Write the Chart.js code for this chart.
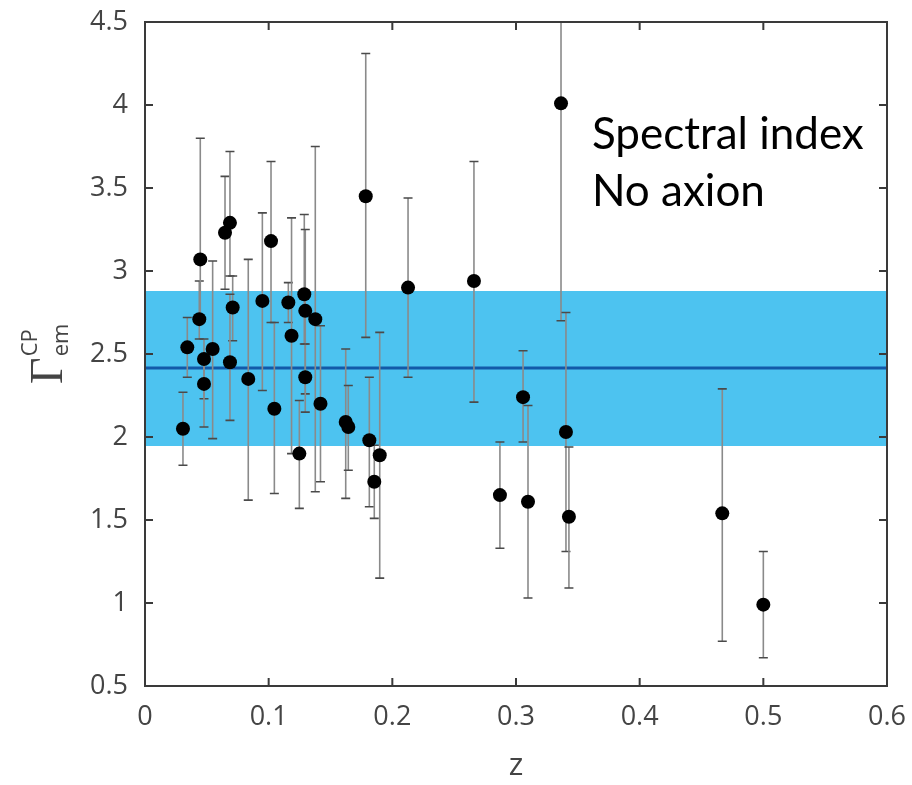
<!DOCTYPE html>
<html><head><meta charset="utf-8">
<script src="https://cdn.jsdelivr.net/npm/chart.js@4.4.0/dist/chart.umd.min.js"></script>
<style>html,body{margin:0;padding:0;background:#fff}#wrap{width:912px;height:785px;position:relative}</style>
</head><body><div id="wrap"><canvas id="c" width="912" height="785"></canvas></div>
<script>
// ---- data ----
const zValues     = [0.0307,0.0342,0.0439,0.0447,0.0477,0.0477,0.0547,0.0647,0.0687,0.0709,0.0687,0.0835,0.0949,0.1019,0.1046,0.1159,0.1185,0.1248,0.1288,0.1296,0.1296,0.1377,0.1419,0.1623,0.1644,0.1785,0.1814,0.1854,0.1898,0.2127,0.2660,0.2870,0.3057,0.3097,0.3364,0.3404,0.3428,0.4668,0.5000];
const gammaValues = [2.05,2.54,2.71,3.07,2.47,2.32,2.53,3.23,3.29,2.78,2.45,2.35,2.82,3.18,2.17,2.81,2.61,1.90,2.86,2.76,2.36,2.71,2.20,2.09,2.06,3.45,1.98,1.73,1.89,2.90,2.94,1.65,2.24,1.61,4.01,2.03,1.52,1.54,0.99];
const errHigh     = [2.27,2.72,2.94,3.80,2.59,2.48,3.06,3.57,3.72,2.97,2.86,3.07,3.35,3.66,2.69,2.93,3.32,2.22,3.34,3.25,2.56,3.75,2.67,2.53,2.31,4.31,2.36,1.95,2.63,3.44,3.66,1.97,2.52,2.19,5.00,2.75,1.94,2.29,1.31];
const errLow      = [1.83,2.36,2.59,2.70,2.23,2.06,1.99,2.89,2.97,2.58,2.10,1.62,2.28,2.69,1.66,2.69,1.90,1.57,2.56,2.26,2.15,1.67,1.73,1.63,1.80,2.60,1.58,1.51,1.15,2.36,2.21,1.33,1.97,1.03,2.70,1.31,1.09,0.77,0.67];
const xTickValues = [0,0.1,0.2,0.3,0.4,0.5,0.6];
const xTickLabels = ['0','0.1','0.2','0.3','0.4','0.5','0.6'];
const yTickValues = [0.5,1,1.5,2,2.5,3,3.5,4,4.5];
const yTickLabels = ['0.5','1','1.5','2','2.5','3','3.5','4','4.5'];
const bandLow = 1.946, bandHigh = 2.88, meanValue = 2.416;
const xRange = [0, 0.6], yRange = [0.5, 4.5];

const tickFont = {family:'"Open Sans", sans-serif', size:27};
const tickColor = '#444';

const errorBars = {
  id:'errorBars',
  beforeDatasetDraw(chart, args){
    if(args.index !== 0) return;
    const {ctx, chartArea:a, scales:{x,y}} = chart;
    ctx.save();
    ctx.beginPath(); ctx.rect(a.left, a.top, a.right-a.left, a.bottom-a.top); ctx.clip();
    for(let i=0;i<zValues.length;i++){
      const px = x.getPixelForValue(zValues[i]);
      const pHi = y.getPixelForValue(errHigh[i]);
      const pLo = y.getPixelForValue(errLow[i]);
      ctx.strokeStyle = '#8a8a8a'; ctx.lineWidth = 1.6;
      ctx.beginPath(); ctx.moveTo(px,pHi); ctx.lineTo(px,pLo); ctx.stroke();
      ctx.strokeStyle = '#4a4a4a'; ctx.lineWidth = 1.6;
      ctx.beginPath(); ctx.moveTo(px-4.5,pHi); ctx.lineTo(px+4.5,pHi);
      ctx.moveTo(px-4.5,pLo); ctx.lineTo(px+4.5,pLo); ctx.stroke();
    }
    ctx.restore();
  }
};

const frame = {
  id:'frame',
  afterDraw(chart){
    const {ctx, chartArea:a, scales:{x,y}} = chart;
    ctx.save();
    ctx.strokeStyle = '#3a3a3a'; ctx.lineWidth = 2;
    ctx.strokeRect(a.left, a.top, a.right-a.left, a.bottom-a.top);
    const L = 8;
    ctx.beginPath();
    xTickValues.forEach(v=>{const p=x.getPixelForValue(v); ctx.moveTo(p,a.bottom); ctx.lineTo(p,a.bottom-L); ctx.moveTo(p,a.top); ctx.lineTo(p,a.top+L);});
    yTickValues.forEach(v=>{const p=y.getPixelForValue(v); ctx.moveTo(a.left,p); ctx.lineTo(a.left+L,p); ctx.moveTo(a.right,p); ctx.lineTo(a.right-L,p);});
    ctx.stroke();
    // y axis title: Gamma_em^CP
    ctx.fillStyle = '#444';
    ctx.translate(a.left-83, y.getPixelForValue(2.32));
    ctx.rotate(-Math.PI/2);
    ctx.textBaseline = 'alphabetic'; ctx.textAlign = 'left';
    ctx.font = '46px "Liberation Serif", serif';
    ctx.fillText('Γ', 0, 0);
    const w = ctx.measureText('Γ').width;
    ctx.font = '22px "Open Sans", sans-serif';
    ctx.fillText('CP', w+1, -25);
    ctx.fillText('em', w+1, 6);
    ctx.restore();
    // annotation
    ctx.save();
    ctx.fillStyle = '#000';
    ctx.font = '44px Lato, sans-serif';
    ctx.textAlign = 'left'; ctx.textBaseline = 'alphabetic';
    ctx.fillText('Spectral index', x.getPixelForValue(0.3614), y.getPixelForValue(3.733));
    ctx.fillText('No axion', x.getPixelForValue(0.3614), y.getPixelForValue(3.393));
    ctx.restore();
  }
};

new Chart(document.getElementById('c'), {
  type:'scatter',
  data:{datasets:[
    {data: zValues.map((z,i)=>({x:z, y:gammaValues[i]})), pointRadius:7, pointHoverRadius:7, backgroundColor:'#000', borderWidth:0, showLine:false},
    {type:'line', data:[{x:xRange[0],y:meanValue},{x:xRange[1],y:meanValue}], borderColor:'#1259a8', borderWidth:3, pointRadius:0, fill:false},
    {type:'line', data:[{x:xRange[0],y:bandHigh},{x:xRange[1],y:bandHigh}], borderWidth:0, borderColor:'rgba(0,0,0,0)', pointRadius:0, backgroundColor:'#4dc3f0', fill:{value:bandLow}}
  ]},
  options:{
    responsive:false, devicePixelRatio:1, animation:false,
    layout:{padding:{left:0,right:25,top:22,bottom:0}},
    plugins:{legend:{display:false}, tooltip:{enabled:false}},
    scales:{
      x:{type:'linear', min:xRange[0], max:xRange[1],
        afterBuildTicks(s){ s.ticks = xTickValues.map(v=>({value:v})); },
        afterFit(s){ s.height = 99; s.paddingLeft = 0; s.paddingRight = 0; },
        ticks:{font:tickFont, color:tickColor, padding:15, maxRotation:0, autoSkip:false,
          callback:(v)=>xTickLabels[xTickValues.indexOf(v)] ?? ''},
        grid:{display:false, drawTicks:false}, border:{display:false},
        title:{display:true, text:'z', font:{family:'"Open Sans", sans-serif', size:31}, color:'#444', padding:{top:0,bottom:0}}
      },
      y:{type:'linear', min:yRange[0], max:yRange[1],
        afterBuildTicks(s){ s.ticks = yTickValues.map(v=>({value:v})); },
        afterFit(s){ s.width = 145; s.paddingTop = 0; s.paddingBottom = 0; },
        ticks:{font:tickFont, color:tickColor, padding:17, autoSkip:false,
          callback:(v)=>yTickLabels[yTickValues.indexOf(v)] ?? ''},
        grid:{display:false, drawTicks:false}, border:{display:false}
      }
    }
  },
  plugins:[errorBars, frame]
});
</script></body></html>
